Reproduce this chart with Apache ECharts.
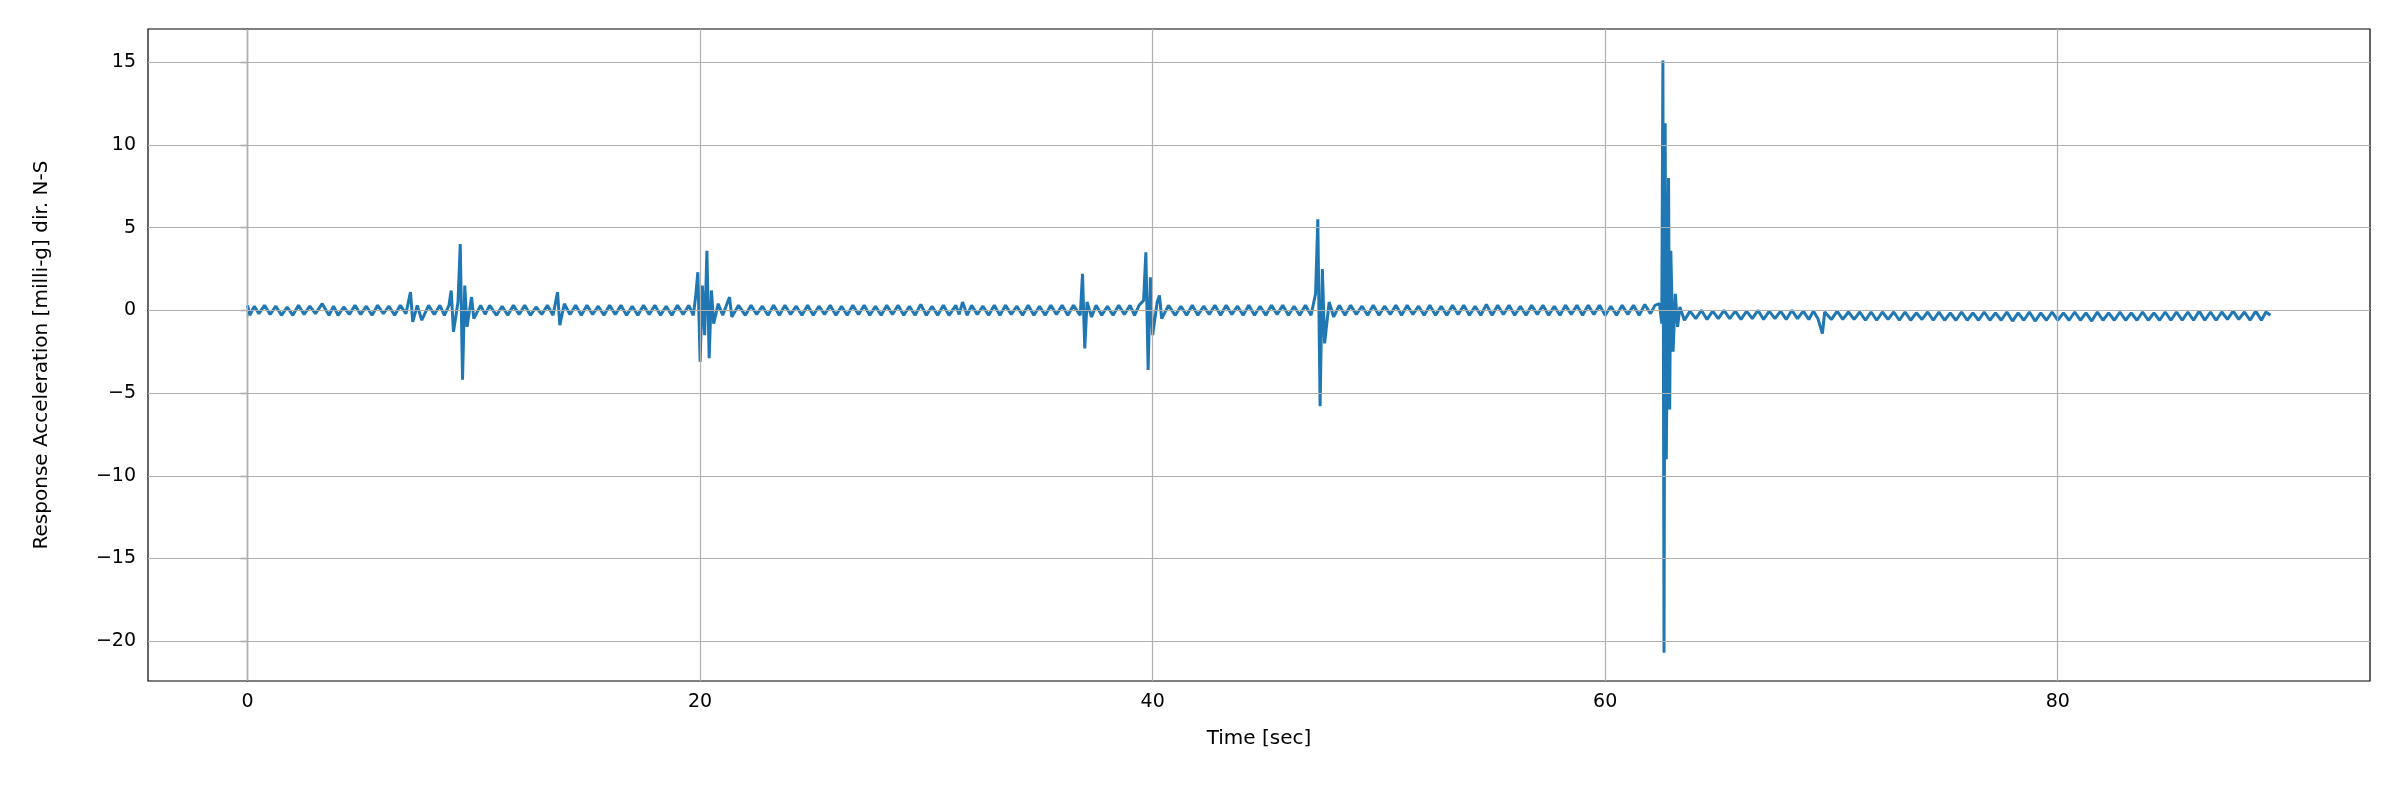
<!DOCTYPE html>
<html>
<head>
<meta charset="utf-8">
<script src="https://cdn.jsdelivr.net/npm/echarts@6/dist/echarts.min.js"></script>
<style>html,body{margin:0;padding:0;background:#fff}#chart{width:2400px;height:800px}</style>
</head>
<body>
<div id="chart"></div>
<script>
// [time sec, acceleration milli-g]
const samples = [
  [0,0.3],[0.1,-0.3],[0.3,0.25],[0.5,-0.2],[0.75,0.3],[1,-0.25],[1.25,0.25],[1.5,-0.3],[1.75,0.2],[2,-0.3],
  [2.25,0.3],[2.5,-0.25],[2.75,0.25],[3,-0.2],[3.3,0.4],[3.6,-0.3],[3.8,0.25],[4,-0.3],[4.25,0.2],[4.5,-0.25],
  [4.75,0.3],[5,-0.25],[5.25,0.25],[5.5,-0.3],[5.75,0.3],[6,-0.2],[6.25,0.25],[6.5,-0.3],[6.75,0.3],[7,-0.2],
  [7.2,1.1],[7.3,-0.7],[7.5,0.3],[7.7,-0.6],[8,0.3],[8.25,-0.25],[8.5,0.3],[8.7,-0.3],[8.9,0.3],[9.0,1.2],
  [9.1,-1.3],[9.3,0.5],[9.4,4.0],[9.5,-4.2],[9.6,1.5],[9.7,-1.0],[9.9,0.8],[10.0,-0.5],[10.3,0.3],[10.5,-0.25],
  [10.7,0.3],[11,-0.3],[11.25,0.25],[11.5,-0.3],[11.75,0.3],[12,-0.25],[12.25,0.3],[12.5,-0.3],[12.75,0.2],
  [13,-0.25],[13.25,0.3],[13.5,-0.3],[13.7,1.1],[13.8,-0.9],[14,0.4],[14.25,-0.25],[14.5,0.3],[14.75,-0.3],
  [15,0.3],[15.25,-0.25],[15.5,0.25],[15.75,-0.3],[16,0.3],[16.25,-0.25],[16.5,0.3],[16.75,-0.3],[17,0.25],
  [17.25,-0.3],[17.5,0.3],[17.75,-0.25],[18,0.3],[18.25,-0.3],[18.5,0.25],[18.75,-0.3],[19,0.3],[19.25,-0.25],
  [19.5,0.3],[19.7,-0.3],[19.8,0.8],[19.9,2.3],[20.0,-3.1],[20.1,1.5],[20.2,-1.5],[20.3,3.6],[20.4,-2.9],
  [20.5,1.2],[20.6,-0.8],[20.8,0.4],[21,-0.3],[21.3,0.8],[21.4,-0.4],[21.7,0.3],[22,-0.3],[22.25,0.3],
  [22.5,-0.25],[22.75,0.25],[23,-0.3],[23.25,0.3],[23.5,-0.3],[23.75,0.3],[24,-0.25],[24.25,0.25],[24.5,-0.3],
  [24.75,0.3],[25,-0.3],[25.25,0.25],[25.5,-0.25],[25.75,0.3],[26,-0.3],[26.25,0.25],[26.5,-0.3],[26.75,0.3],
  [27,-0.25],[27.25,0.3],[27.5,-0.3],[27.75,0.25],[28,-0.3],[28.25,0.3],[28.5,-0.25],[28.75,0.3],[29,-0.3],
  [29.25,0.25],[29.5,-0.3],[29.75,0.35],[30,-0.3],[30.25,0.25],[30.5,-0.3],[30.75,0.3],[31,-0.3],[31.3,0.3],
  [31.45,-0.25],[31.6,0.5],[31.8,-0.3],[32,0.3],[32.25,-0.25],[32.5,0.25],[32.75,-0.3],[33,0.3],[33.25,-0.3],
  [33.5,0.3],[33.75,-0.25],[34,0.25],[34.25,-0.3],[34.5,0.3],[34.75,-0.3],[35,0.25],[35.25,-0.3],[35.5,0.3],
  [35.75,-0.25],[36,0.3],[36.25,-0.3],[36.5,0.3],[36.8,-0.3],[36.9,2.2],[37.0,-2.3],[37.1,0.5],[37.3,-0.4],
  [37.5,0.3],[37.75,-0.3],[38,0.25],[38.25,-0.3],[38.5,0.3],[38.75,-0.25],[39,0.3],[39.2,-0.3],[39.4,0.3],
  [39.6,0.6],[39.7,3.5],[39.8,-3.6],[39.9,2.0],[40.0,-1.5],[40.2,0.5],[40.3,0.9],[40.4,-0.5],[40.7,0.3],
  [41,-0.3],[41.25,0.25],[41.5,-0.3],[41.75,0.3],[42,-0.3],[42.25,0.25],[42.5,-0.25],[42.75,0.3],[43,-0.3],
  [43.25,0.3],[43.5,-0.25],[43.75,0.25],[44,-0.3],[44.25,0.3],[44.5,-0.3],[44.75,0.25],[45,-0.3],[45.25,0.3],
  [45.5,-0.25],[45.75,0.3],[46,-0.3],[46.25,0.25],[46.5,-0.3],[46.75,0.3],[47,-0.3],[47.2,1.0],[47.3,5.5],
  [47.4,-5.8],[47.5,2.5],[47.6,-2.0],[47.8,0.5],[48,-0.4],[48.25,0.3],[48.5,-0.3],[48.75,0.3],[49,-0.25],
  [49.25,0.25],[49.5,-0.3],[49.75,0.3],[50,-0.3],[50.25,0.25],[50.5,-0.25],[50.75,0.3],[51,-0.3],[51.25,0.3],
  [51.5,-0.25],[51.75,0.25],[52,-0.3],[52.25,0.3],[52.5,-0.3],[52.75,0.25],[53,-0.3],[53.25,0.3],[53.5,-0.25],
  [53.75,0.3],[54,-0.3],[54.25,0.25],[54.5,-0.3],[54.75,0.35],[55,-0.3],[55.25,0.3],[55.5,-0.25],[55.75,0.3],
  [56,-0.3],[56.25,0.25],[56.5,-0.3],[56.75,0.3],[57,-0.25],[57.25,0.3],[57.5,-0.3],[57.75,0.25],[58,-0.3],
  [58.25,0.3],[58.5,-0.25],[58.75,0.3],[59,-0.3],[59.25,0.3],[59.5,-0.25],[59.75,0.3],[60,-0.3],[60.25,0.25],
  [60.5,-0.3],[60.75,0.3],[61,-0.25],[61.25,0.3],[61.5,-0.3],[61.75,0.35],[62,-0.2],[62.2,0.3],[62.4,0.4],
  [62.5,-0.8],[62.55,15.1],[62.6,-20.7],[62.65,11.3],[62.7,-9.0],[62.8,8.0],[62.85,-6.0],[62.9,3.6],
  [63.0,-2.5],[63.1,1.0],[63.2,-1.0],[63.3,0.2],[63.5,-0.6],[63.75,-0.05],[64,-0.5],[64.25,0.0],[64.5,-0.55],
  [64.75,-0.05],[65,-0.5],[65.25,0.0],[65.5,-0.5],[65.75,-0.05],[66,-0.55],[66.25,-0.05],[66.5,-0.5],
  [66.75,0.0],[67,-0.55],[67.25,-0.05],[67.5,-0.5],[67.75,-0.05],[68,-0.55],[68.25,0.0],[68.5,-0.5],
  [68.75,-0.05],[69,-0.55],[69.2,-0.05],[69.4,-0.5],[69.6,-1.4],[69.7,-0.1],[70,-0.55],[70.25,-0.05],
  [70.5,-0.55],[70.75,-0.1],[71,-0.55],[71.25,-0.1],[71.5,-0.6],[71.75,-0.1],[72,-0.6],[72.25,-0.1],
  [72.5,-0.55],[72.75,-0.1],[73,-0.6],[73.25,-0.1],[73.5,-0.6],[73.75,-0.15],[74,-0.55],[74.25,-0.1],
  [74.5,-0.6],[74.75,-0.1],[75,-0.6],[75.25,-0.15],[75.5,-0.6],[75.75,-0.1],[76,-0.6],[76.25,-0.15],
  [76.5,-0.6],[76.75,-0.1],[77,-0.6],[77.25,-0.15],[77.5,-0.6],[77.75,-0.1],[78,-0.65],[78.25,-0.15],
  [78.5,-0.6],[78.75,-0.1],[79,-0.65],[79.25,-0.15],[79.5,-0.6],[79.75,-0.1],[80,-0.6],[80.25,-0.15],
  [80.5,-0.6],[80.75,-0.1],[81,-0.6],[81.25,-0.15],[81.5,-0.65],[81.75,-0.1],[82,-0.6],[82.25,-0.15],
  [82.5,-0.6],[82.75,-0.1],[83,-0.6],[83.25,-0.15],[83.5,-0.6],[83.75,-0.1],[84,-0.6],[84.25,-0.15],
  [84.5,-0.6],[84.75,-0.1],[85,-0.6],[85.25,-0.1],[85.5,-0.6],[85.75,-0.1],[86,-0.6],[86.25,-0.05],
  [86.5,-0.6],[86.75,-0.1],[87,-0.6],[87.25,-0.1],[87.5,-0.55],[87.75,-0.05],[88,-0.55],[88.25,-0.1],
  [88.5,-0.6],[88.75,-0.05],[89,-0.6],[89.2,-0.1],[89.4,-0.3]
];
const xTicks = [0, 20, 40, 60, 80];
const yTicks = [-20, -15, -10, -5, 0, 5, 10, 15];

const fmt = v => String(v).replace('-', '\u2212');
const gridStyle = {color: '#b0b0b0', width: 1.2, type: 'solid'};
const chart = echarts.init(document.getElementById('chart'));
chart.setOption({
  animation: false,
  textStyle: {fontFamily: 'DejaVu Sans'},
  grid: {left: 148, right: 30, top: 29, bottom: 119, show: true, borderColor: '#000', borderWidth: 1.2},
  xAxis: {
    type: 'value', min: -4.4, max: 93.8,
    name: 'Time [sec]', nameLocation: 'middle', nameGap: 48,
    nameTextStyle: {fontSize: 20, color: '#000'},
    axisLine: {lineStyle: {color: '#000', width: 1.2}},
    axisTick: {customValues: xTicks, length: 7, lineStyle: {color: '#000', width: 1.2}},
    axisLabel: {customValues: xTicks, fontSize: 19, color: '#000', margin: 12, formatter: fmt},
    splitLine: {show: false}
  },
  yAxis: {
    type: 'value', min: -22.4, max: 17,
    name: 'Response Acceleration [milli-g] dir. N-S', nameLocation: 'middle', nameGap: 96,
    nameTextStyle: {fontSize: 20, color: '#000'},
    axisLine: {show: true, lineStyle: {color: '#000', width: 1.2}},
    axisTick: {show: true, customValues: yTicks, length: 7, lineStyle: {color: '#000', width: 1.2}},
    axisLabel: {customValues: yTicks, fontSize: 19, color: '#000', margin: 12, formatter: fmt},
    splitLine: {show: false}
  },
  series: [{
    type: 'line', data: samples, showSymbol: false, z: 3,
    lineStyle: {color: '#1f77b4', width: 3}
  }, {
    type: 'line', data: [], silent: true, z: 1,
    markLine: {
      silent: true, symbol: 'none', animation: false, label: {show: false},
      lineStyle: gridStyle,
      data: xTicks.map(v => ({xAxis: v})).concat(yTicks.map(v => ({yAxis: v})))
    }
  }]
});
</script>
</body>
</html>
